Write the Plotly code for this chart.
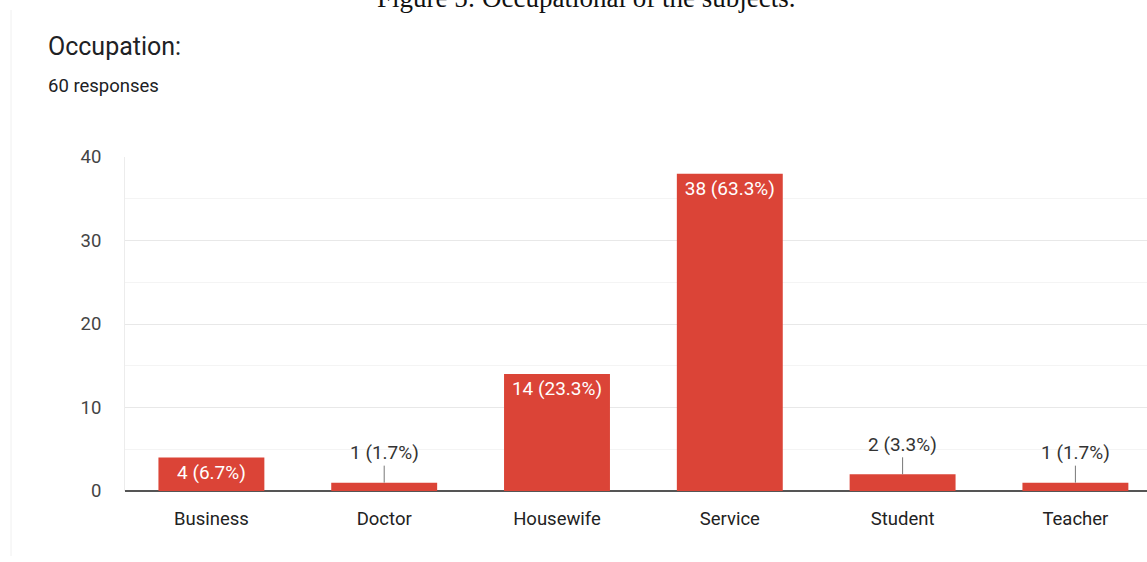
import plotly.graph_objects as go

categories = ["Business", "Doctor", "Housewife", "Service", "Student", "Teacher"]
counts = [4, 1, 14, 38, 2, 1]
total = 60
y_ticks = [0, 10, 20, 30, 40]

labels = [f"{c} ({c / total * 100:.1f}%)" for c in counts]
inside_threshold = 4
inside_text = [l if c >= inside_threshold else "" for l, c in zip(labels, counts)]

W, H = 1147, 562
plot_top, plot_bottom, plot_left = 157, 491, 125
ph = plot_bottom - plot_top
cat_w = 172.8
x_max = -0.5 + (W - plot_left) / cat_w

def py(p):
    return (plot_bottom - p) / ph

def px(p):
    return (p - plot_left) / (W - plot_left)

fig = go.Figure()
fig.add_trace(go.Bar(
    x=categories, y=counts, width=0.613,
    marker=dict(color="#db4437", line=dict(width=0)),
    text=inside_text, textposition="inside", insidetextanchor="end",
    textangle=0,
    textfont=dict(family="Roboto", size=19, color="white"),
    hoverinfo="skip", cliponaxis=False,
))

annotations = []
for cat, c, l in zip(categories, counts, labels):
    if c < inside_threshold:
        annotations.append(dict(
            x=cat, y=c, xref="x", yref="y", text=l, showarrow=True,
            arrowhead=0, arrowwidth=1, arrowcolor="#777", ax=0, ay=-30,
            standoff=0, startstandoff=0,
            font=dict(family="Roboto", size=19, color="#333"),
        ))

annotations += [
    dict(text="Figure 5: Occupational of the subjects.", xref="paper", yref="paper",
         x=px(586), y=py(-2), xanchor="center", yanchor="middle",
         showarrow=False, font=dict(family="Liberation Serif", size=27, color="#111")),
    dict(text="Occupation:", xref="paper", yref="paper",
         x=px(46), y=py(47), xanchor="left", yanchor="middle",
         showarrow=False, font=dict(family="Roboto", size=25, color="#202124")),
    dict(text="60 responses", xref="paper", yref="paper",
         x=px(46), y=py(86), xanchor="left", yanchor="middle",
         showarrow=False, font=dict(family="Roboto", size=18.5, color="#202124")),
]

fig.update_layout(
    width=W, height=H,
    margin=dict(l=plot_left, r=0, t=plot_top, b=H - plot_bottom, pad=0),
    paper_bgcolor="white", plot_bgcolor="white",
    showlegend=False,
    annotations=annotations,
    shapes=[dict(type="line", xref="paper", yref="paper",
                 x0=px(11), x1=px(11),
                 y0=py(10), y1=py(556), line=dict(color="#f0f0f0", width=1), layer="below")],
    xaxis=dict(range=[-0.5, x_max], showgrid=False, ticks="", showline=False,
               tickfont=dict(family="Roboto", size=18.5, color="#222"), ticklabelstandoff=14),
    yaxis=dict(range=[0, 40], tickvals=y_ticks, showgrid=True, gridcolor="#e8e8e8", gridwidth=1,
               minor=dict(dtick=5, tick0=0, showgrid=True, gridcolor="#f4f4f4", gridwidth=1),
               zeroline=True, zerolinecolor="#555", zerolinewidth=1.5,
               showline=True, linecolor="#ececec", linewidth=1,
               ticks="", tickfont=dict(family="Roboto", size=18.5, color="#444"),
               ticklabelstandoff=19),
    bargap=0.387,
)

fig.write_html("out.html")
